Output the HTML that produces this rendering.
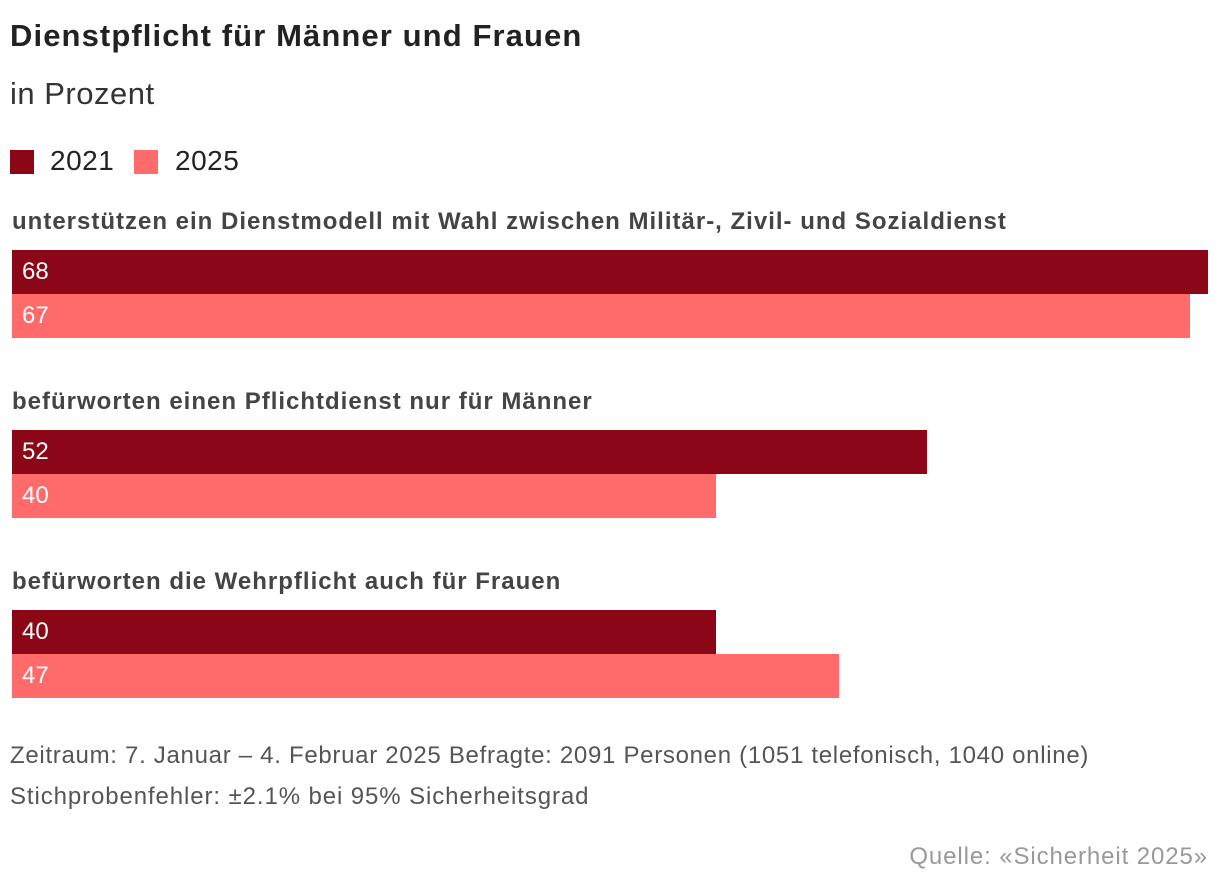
<!DOCTYPE html>
<html><head><meta charset="utf-8"><style>
body{margin:0;width:1220px;height:888px;background:#fff;font-family:"Liberation Sans",sans-serif;position:relative;overflow:hidden}
.t{position:absolute;white-space:nowrap}
</style></head><body>
<div class="t" style="left:10px;top:18px;font-size:31px;font-weight:bold;color:#222;letter-spacing:1.1px">Dienstpflicht für Männer und Frauen</div>
<div class="t" style="left:10px;top:76px;font-size:31px;color:#333;letter-spacing:0.5px">in Prozent</div>
<div>
<div class="t" style="left:10px;top:150px;width:24px;height:24px;background:#8b0616"></div>
<div class="t" style="left:50px;top:145px;font-size:28px;color:#222;letter-spacing:0.5px">2021</div>
<div class="t" style="left:134px;top:150px;width:24px;height:24px;background:#ff6b6b"></div>
<div class="t" style="left:175px;top:145px;font-size:28px;color:#222;letter-spacing:0.5px">2025</div>
</div>
<div id="chart"></div>
<div class="t" style="left:10px;top:742px;font-size:24px;color:#555;letter-spacing:0.7px">Zeitraum: 7. Januar – 4. Februar 2025 Befragte: 2091 Personen (1051 telefonisch, 1040 online)</div>
<div class="t" style="left:10px;top:783px;font-size:24px;color:#555;letter-spacing:0.9px">Stichprobenfehler: ±2.1% bei 95% Sicherheitsgrad</div>
<div class="t" style="right:12px;top:843px;font-size:24px;color:#999;letter-spacing:0.9px">Quelle: «Sicherheit 2025»</div>
<script>
const categories=["unterstützen ein Dienstmodell mit Wahl zwischen Militär-, Zivil- und Sozialdienst","befürworten einen Pflichtdienst nur für Männer","befürworten die Wehrpflicht auch für Frauen"];
const values2021=[68,52,40];
const values2025=[67,40,47];
const x0=12, scale=1196/68, barH=44, groupTop=250, groupStep=180;
const xw=v=>v*scale;
const chart=document.getElementById('chart');
function mk(style,text){const d=document.createElement('div');d.className='t';d.setAttribute('style',style);if(text!==undefined)d.textContent=text;chart.appendChild(d);return d;}
categories.forEach((c,i)=>{
  const top=groupTop+i*groupStep;
  const l=mk(`left:12px;top:${top-42}px;font-size:24px;font-weight:bold;color:#444;letter-spacing:1px`,c);
  
  
  [[values2021[i],'#8b0616','2021'],[values2025[i],'#ff6b6b','2025']].forEach((s,j)=>{
    const b=mk(`left:${x0}px;top:${top+j*barH}px;width:${xw(s[0])}px;height:${barH}px;background:${s[1]};color:#fff;font-size:24px;line-height:${barH}px;box-sizing:border-box;padding-left:10px`,String(s[0]));
    
    
  });
});
</script>
</body></html>
